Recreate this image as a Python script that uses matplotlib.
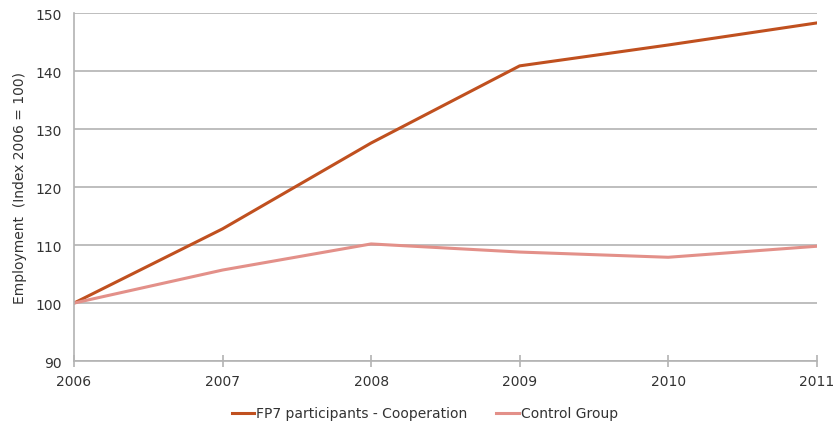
import matplotlib
matplotlib.use("Agg")
import matplotlib.pyplot as plt

years = [2006, 2007, 2008, 2009, 2010, 2011]
fp7_cooperation = [100.0, 112.8, 127.6, 140.9, 144.5, 148.3]
control_group = [100.0, 105.7, 110.2, 108.8, 107.9, 109.8]
series_labels = ["FP7 participants - Cooperation", "Control Group"]
y_ticks = [90, 100, 110, 120, 130, 140, 150]

plt.rcParams["font.family"] = ["DejaVu Sans"]

fig = plt.figure(figsize=(8.36, 4.27), dpi=100)
ax = fig.add_axes([0.0885, 0.152, 0.8885, 0.815])

grid_col = "#b3b3b3"
text_col = "#333333"
ax.set_xlim(years[0], years[-1])
ax.set_ylim(y_ticks[0], y_ticks[-1])
ax.set_yticks(y_ticks)
ax.set_xticks(years)
ax.yaxis.grid(True, color=grid_col, linewidth=1.2)
ax.set_axisbelow(True)

ax.plot(years, fp7_cooperation, color="#c0501f", linewidth=2.2,
        label=series_labels[0])
ax.plot(years, control_group, color="#e39089", linewidth=2.2,
        label=series_labels[1])

for side in ["top", "right"]:
    ax.spines[side].set_visible(False)
for side in ["left", "bottom"]:
    ax.spines[side].set_color(grid_col)
    ax.spines[side].set_linewidth(1.2)

ax.tick_params(axis="x", direction="inout", length=9, color=grid_col,
               width=1.2, labelsize=10, labelcolor=text_col, pad=5)
ax.tick_params(axis="y", length=0, labelsize=10, labelcolor=text_col, pad=9)

ax.set_ylabel("Employment  (Index 2006 = 100)", fontsize=10,
              color=text_col, labelpad=6)

leg = fig.legend(loc="upper center", bbox_to_anchor=(0.508, 0.075), ncol=2,
                 frameon=False, fontsize=10, handlelength=1.6,
                 handletextpad=0.15, columnspacing=2.1)
for t in leg.get_texts():
    t.set_color(text_col)

fig.savefig("out.png", dpi=100)
